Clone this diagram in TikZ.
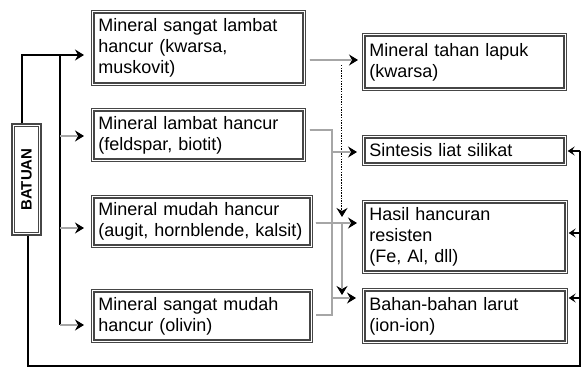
\documentclass[tikz,border=0pt]{standalone}
\usepackage{fontspec}
\setmainfont{Liberation Sans}
\usetikzlibrary{arrows.meta,calc}

\tikzset{
  txt/.style={font={\fontsize{18pt}{21pt}\selectfont}},
  box/.style={draw=gray!55!black, line width=0.7pt, anchor=north west,
    inner xsep=7pt, inner ysep=0pt, align=left, txt, fill=white,
    path picture={\draw[line width=2pt]
      ([shift={(2.6pt,-2.6pt)}]path picture bounding box.north west) rectangle
      ([shift={(-2.6pt,2.6pt)}]path picture bounding box.south east);}},
  rockbox/.style={draw=gray!55!black, line width=1.4pt, minimum width=29pt,
    minimum height=111pt, inner sep=0pt, fill=white,
    path picture={\draw[line width=0.8pt]
      ([shift={(2.4pt,-2.4pt)}]path picture bounding box.north west) rectangle
      ([shift={(-2.4pt,2.4pt)}]path picture bounding box.south east);}},
  tip/.style={-{Stealth[length=9pt,width=11pt,inset=3pt]}},
  smalltip/.style={-{Stealth[length=7pt,width=9pt,inset=3pt]}},
  dbl/.style={draw=black, line width=0.8pt, double=gray!70, double distance=1.3pt},
  head/.style={draw=black, line width=1pt, tip},
  heavy/.style={draw=black, line width=2.2pt},
  heavyarr/.style={heavy, tip},
  backarr/.style={draw=black, line width=1.5pt, smalltip},
  dotline/.style={draw=black, line width=1pt, double=white, double distance=0.9pt,
    dash pattern=on 1.5pt off 1.1pt},
}

\begin{document}
\begin{tikzpicture}[x=1pt, y=-1pt]
\useasboundingbox (0,0) rectangle (582,369);

% mineral groups
\node[box, text width=200pt, minimum height=75pt] (A) at (91,10)
  {Mineral sangat lambat\\hancur (kwarsa,\\muskovit)};
\node[box, text width=200pt, minimum height=53pt] (B) at (91,108)
  {Mineral lambat hancur\\(feldspar, biotit)};
\node[box, text width=207pt, minimum height=52pt] (C) at (91,195)
  {Mineral mudah hancur\\(augit, hornblende, kalsit)};
\node[box, text width=207pt, minimum height=53pt] (D) at (91,289)
  {Mineral sangat mudah\\hancur (olivin)};

% weathering products
\node[box, text width=190pt, minimum height=57pt] (E) at (362,33)
  {Mineral tahan lapuk\\(kwarsa)};
\node[box, text width=190pt, minimum height=30pt] (F) at (362,135)
  {Sintesis liat silikat};
\node[box, text width=191pt, minimum height=73pt] (G) at (362,200)
  {Hasil hancuran\\resisten\\(Fe, Al, dll)};
\node[box, text width=191pt, minimum height=55pt] (H) at (362,288)
  {Bahan-bahan larut\\(ion-ion)};

% parent rock
\node[rockbox] (bat) at (26.5,179.5)
  {\rotatebox{90}{\fontsize{15pt}{18pt}\selectfont\bfseries BATUAN}};

% junction points and arrow ends
\coordinate (busTop) at (60,55);
\coordinate (busBot) at (60,325);
\coordinate (rB) at (60,136);
\coordinate (rC) at (60,228);
\coordinate (rA) at (0,60);
\coordinate (mTop) at (332,130);
\coordinate (mBot) at (332,315);
\coordinate (rF) at (332,152);
\coordinate (rH) at (332,298);
\coordinate (rG) at (0,223);
\coordinate (cSplit) at (342,223);
\coordinate (cEnd) at (342,295);
\coordinate (dTop) at (342,65);
\coordinate (dEnd) at (342,217);
\coordinate (loopR) at (580,366);
\coordinate (loopTop) at (580,151);
\coordinate (rG2) at (0,233);
\coordinate (rH2) at (0,298);

\coordinate (tA) at ($(busTop -| A.west)+(-7,0)$);
\coordinate (tB) at ($(rB -| B.west)+(-7,0)$);
\coordinate (tC) at ($(rC -| C.west)+(-7,0)$);
\coordinate (tD) at ($(busBot -| D.west)+(-7,0)$);
\coordinate (tE) at ($(rA -| E.west)+(-4,0)$);
\coordinate (tF) at ($(rF -| F.west)+(-5,0)$);
\coordinate (tG) at ($(rG -| G.west)+(-5,0)$);
\coordinate (tH) at ($(rH -| H.west)+(-6,0)$);

% rock to mineral groups
\draw[heavyarr] ([xshift=-4.5pt]bat.north) |- (tA);
\draw[heavy] (busTop) -- (busBot);
\foreach \r/\t in {rB/tB, rC/tC, busBot/tD}{
  \draw[dbl] (\r) -- ($(\t)+(-7,0)$);
  \draw[head] ($(\t)+(-2,0)$) -- (\t);
}

% mineral groups to products
\draw[dbl] ($(A.east |- rA)+(4,0)$) -- ($(tE)+(-7,0)$);
\draw[head] ($(tE)+(-2,0)$) -- (tE);
\draw[dotline] (dTop) -- ($(dEnd)+(0,-7)$);
\draw[head] ($(dEnd)+(0,-2)$) -- (dEnd);
\draw[dbl] ($(B.east |- mTop)+(4,0)$) -- (mTop) -- (mBot) -- ($(D.east |- mBot)+(3,0)$);
\draw[dbl] (rF) -- ($(tF)+(-7,0)$);
\draw[head] ($(tF)+(-2,0)$) -- (tF);
\draw[dbl] (rH) -- ($(tH)+(-7,0)$);
\draw[head] ($(tH)+(-2,0)$) -- (tH);
\draw[dbl] ($(C.east |- rG)+(3,0)$) -- ($(tG)+(-7,0)$);
\draw[head] ($(tG)+(-2,0)$) -- (tG);
\draw[dbl] (cSplit) -- ($(cEnd)+(0,-7)$);
\draw[head] ($(cEnd)+(0,-2)$) -- (cEnd);

% return path from rock to products
\draw[heavy] ([xshift=1.5pt]bat.south) |- (loopR) -- (loopTop);
\draw[backarr, shorten >=1pt] (loopTop) -- (loopTop -| F.east);
\draw[backarr, shorten >=1pt] (loopR |- rG2) -- (G.east |- rG2);
\draw[backarr, shorten >=1pt] (loopR |- rH2) -- (H.east |- rH2);
\end{tikzpicture}
\end{document}
